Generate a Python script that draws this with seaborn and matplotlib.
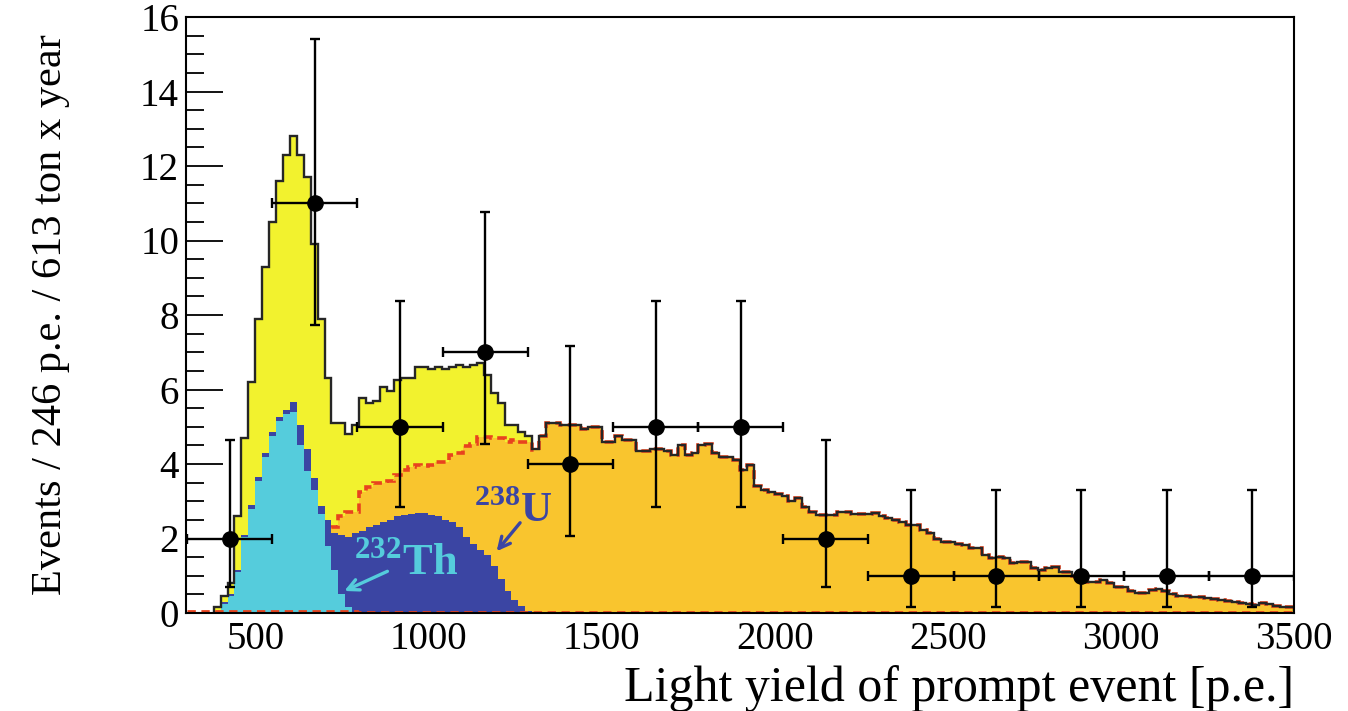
import numpy as np
import pandas as pd
import matplotlib
matplotlib.use("Agg")
import matplotlib.pyplot as plt
from matplotlib.ticker import MultipleLocator
import seaborn as sns

sns.set_theme(style="white")
plt.rcParams['font.family'] = ['Liberation Serif', 'DejaVu Serif']
plt.rcParams['mathtext.fontset'] = 'custom'
plt.rcParams['mathtext.rm'] = 'Liberation Serif'
plt.rcParams['mathtext.bf'] = 'Liberation Serif:bold'

# ---------------- data ----------------
BIN_START = 380      # p.e., first edge of fine histogram bins
BIN_WIDTH = 20       # p.e.

# reactor + background fit (orange, red dashed outline), bins 380..3480
reactor = [
    0.0, 0.1, 0.3, 0.5, 0.7, 0.9, 1.1, 1.3, 1.5, 1.65,
    1.8, 1.9, 2.0, 2.1, 2.2, 2.25, 2.25, 2.32, 2.6, 2.72,
    2.72, 3.26, 3.39, 3.5, 3.5, 3.55, 3.7, 3.84, 3.93, 3.97,
    3.95, 3.97, 4.06, 4.06, 4.24, 4.3, 4.47, 4.55, 4.73, 4.73,
    4.69, 4.69, 4.6, 4.65, 4.6, 4.6, 4.38, 4.75, 5.1, 5.1,
    5.05, 5.05, 5.05, 4.95, 5.0, 5.0, 4.6, 4.6, 4.75, 4.65,
    4.65, 4.35, 4.35, 4.4, 4.4, 4.35, 4.25, 4.5, 4.25, 4.3,
    4.5, 4.55, 4.3, 4.2, 4.2, 4.1, 3.85, 3.97, 3.4, 3.3,
    3.25, 3.2, 3.15, 3.0, 3.08, 2.85, 2.7, 2.62, 2.62, 2.62,
    2.72, 2.72, 2.65, 2.65, 2.65, 2.69, 2.6, 2.54, 2.5, 2.45,
    2.36, 2.36, 2.23, 2.15, 2.0, 1.91, 1.9, 1.85, 1.83, 1.75,
    1.74, 1.55, 1.48, 1.49, 1.47, 1.35, 1.38, 1.36, 1.2, 1.15,
    1.22, 1.24, 1.11, 1.1, 0.98, 0.98, 0.82, 0.84, 0.89, 0.8,
    0.71, 0.7, 0.58, 0.55, 0.53, 0.62, 0.64, 0.6, 0.5, 0.46,
    0.45, 0.44, 0.42, 0.4, 0.37, 0.35, 0.33, 0.29, 0.27, 0.24,
    0.22, 0.26, 0.25, 0.2, 0.17, 0.15,
]

# total fit (yellow) where it exceeds the reactor part, bins 380..1300
total_low = [
    0.15, 0.45, 0.8, 2.6, 4.7, 6.2, 7.9, 9.3, 10.5, 11.6,
    12.3, 12.8, 12.3, 11.7, 9.9, 7.9, 6.3, 5.1, 5.1, 4.8,
    5.06, 5.77, 5.64, 5.68, 6.08, 5.95, 6.26, 6.3, 6.3, 6.6,
    6.6, 6.55, 6.6, 6.55, 6.6, 6.65, 6.6, 6.65, 6.7, 6.4,
    5.9, 5.65, 5.05, 5.05, 4.87, 4.75, 4.4,
]

# 238U (+Th) geo-neutrino spectrum (dark blue), bins 380..1280
uranium = [
    0.0, 0.3, 0.5, 1.15, 2.1, 2.9, 3.65, 4.3, 4.85, 5.25,
    5.45, 5.67, 5.05, 4.4, 3.62, 2.86, 2.5, 2.15, 2.1, 2.05,
    2.15, 2.2, 2.3, 2.36, 2.45, 2.5, 2.6, 2.63, 2.65, 2.68,
    2.68, 2.63, 2.6, 2.5, 2.45, 2.32, 2.05, 1.85, 1.7, 1.55,
    1.25, 0.9, 0.6, 0.35, 0.18, 0.06,
]

# 232Th geo-neutrino spectrum (cyan), bins 380..760
thorium = [
    0.0, 0.25, 0.45, 1.1, 2.05, 2.8, 3.55, 4.2, 4.75, 5.15,
    5.35, 5.4, 4.5, 3.8, 3.3, 2.65, 1.8, 1.15, 0.5, 0.15,
]

# data: 246 p.e. bins
data_x = [426, 672, 918, 1164, 1410, 1656, 1902, 2148, 2394, 2640, 2886, 3132, 3378]
data_counts = [2, 11, 5, 7, 4, 5, 5, 2, 1, 1, 1, 1, 1]
data_err_lo = [1.29, 3.27, 2.16, 2.47, 1.92, 2.16, 2.16, 1.29, 0.83, 0.83, 0.83, 0.83, 0.83]
data_err_hi = [2.64, 4.42, 3.38, 3.77, 3.16, 3.38, 3.38, 2.64, 2.30, 2.30, 2.30, 2.30, 2.30]
DATA_HALF_WIDTH = 123

# tiny background (red dashed near zero), 246 p.e. bins
background = [0.05, 0.05, 0.04, 0.04, 0.04, 0.03, 0.03, 0.03, 0.03, 0.03, 0.02, 0.02, 0.02]
BKG_START = 303
BKG_WIDTH = 246

# ---------------- colours ----------------
C_YELLOW = '#F2F22E'
C_ORANGE = '#F9C52E'
C_BLUE = '#3B45A3'
C_CYAN = '#55CCDC'
C_OUTLINE = '#262626'
C_RED = '#E8431E'

# ---------------- figure ----------------
fig = plt.figure(figsize=(13.48, 7.11), dpi=100)
ax = fig.add_axes([186 / 1348, 1 - 613 / 711, 1108 / 1348, 596 / 711])


def edges_of(vals, start=BIN_START, width=BIN_WIDTH):
    return start + width * np.arange(len(vals) + 1)


def fill_hist(vals, color, z):
    e = edges_of(vals)
    df = pd.DataFrame({'pe': 0.5 * (e[:-1] + e[1:]), 'w': vals})
    sns.histplot(data=df, x='pe', weights='w', binwidth=BIN_WIDTH,
                 binrange=(float(e[0]), float(e[-1])), element="step",
                 fill=True, color=color, alpha=1, linewidth=0, ax=ax, zorder=z)


total = total_low + reactor[len(total_low):]

fill_hist(total, C_YELLOW, 1)
fill_hist(reactor, C_ORANGE, 2)
ax.stairs(reactor, edges_of(reactor), baseline=None, fill=False,
          color=C_RED, lw=2.6, ls=(0, (2.5, 1.5)), zorder=3)
fill_hist(uranium, C_BLUE, 4)
fill_hist(thorium, C_CYAN, 5)
ax.stairs(total, edges_of(total), baseline=0, fill=False,
          color=C_OUTLINE, lw=1.7, zorder=6)
ax.stairs(background, edges_of(background, BKG_START, BKG_WIDTH), baseline=None,
          fill=False, color=C_RED, lw=2.0, ls=(0, (3, 2)), zorder=7)

ax.errorbar(data_x, data_counts, xerr=DATA_HALF_WIDTH,
            yerr=[data_err_lo, data_err_hi], fmt='o', color='black',
            ms=11, elinewidth=1.7, capsize=3.8, capthick=1.7, zorder=10)

# annotations
ax.text(935, 1.0, r'$^{\mathbf{232}}$Th', color=C_CYAN, fontsize=32,
        fontweight='bold', ha='center', va='baseline', zorder=11)
ax.annotate('', xy=(750, 0.56), xytext=(889, 1.15),
            arrowprops=dict(arrowstyle='->', color=C_CYAN, lw=2.4,
                            mutation_scale=20), zorder=11)
ax.text(1245, 2.45, r'$^{\mathbf{238}}$U', color=C_BLUE, fontsize=31,
        fontweight='bold', ha='center', va='baseline', zorder=11)
ax.annotate('', xy=(1192, 1.60), xytext=(1270, 2.48),
            arrowprops=dict(arrowstyle='->', color=C_BLUE, lw=2.4,
                            mutation_scale=20), zorder=11)

# axes styling
ax.set_xlim(300, 3500)
ax.set_ylim(0, 16)
ax.xaxis.set_major_locator(MultipleLocator(500))
ax.xaxis.set_minor_locator(MultipleLocator(100))
ax.yaxis.set_major_locator(MultipleLocator(2))
ax.yaxis.set_minor_locator(MultipleLocator(0.5))
ax.tick_params(which='both', direction='in', top=False, right=False,
               left=True, bottom=True,
               color='black', width=1.3, labelsize=28, labelcolor='black')
ax.tick_params(axis='y', which='major', length=26.5, pad=5)
ax.tick_params(axis='y', which='minor', length=13)
ax.tick_params(axis='x', which='major', length=12, pad=6)
ax.tick_params(axis='x', which='minor', length=6)
for sp in ax.spines.values():
    sp.set_visible(True)
    sp.set_color('black')
    sp.set_linewidth(1.5)
    sp.set_zorder(12)

ax.set_ylabel('Events / 246 p.e. / 613 ton x year', fontsize=30.5, color='black')
ax.yaxis.set_label_coords(-0.105, 0.5)
ax.set_xlabel('Light yield of prompt event [p.e.]', fontsize=36, color='black',
              loc='right')
ax.xaxis.set_label_coords(1.0, -0.088)
ax.grid(False)

fig.savefig('out.png', dpi=100)
